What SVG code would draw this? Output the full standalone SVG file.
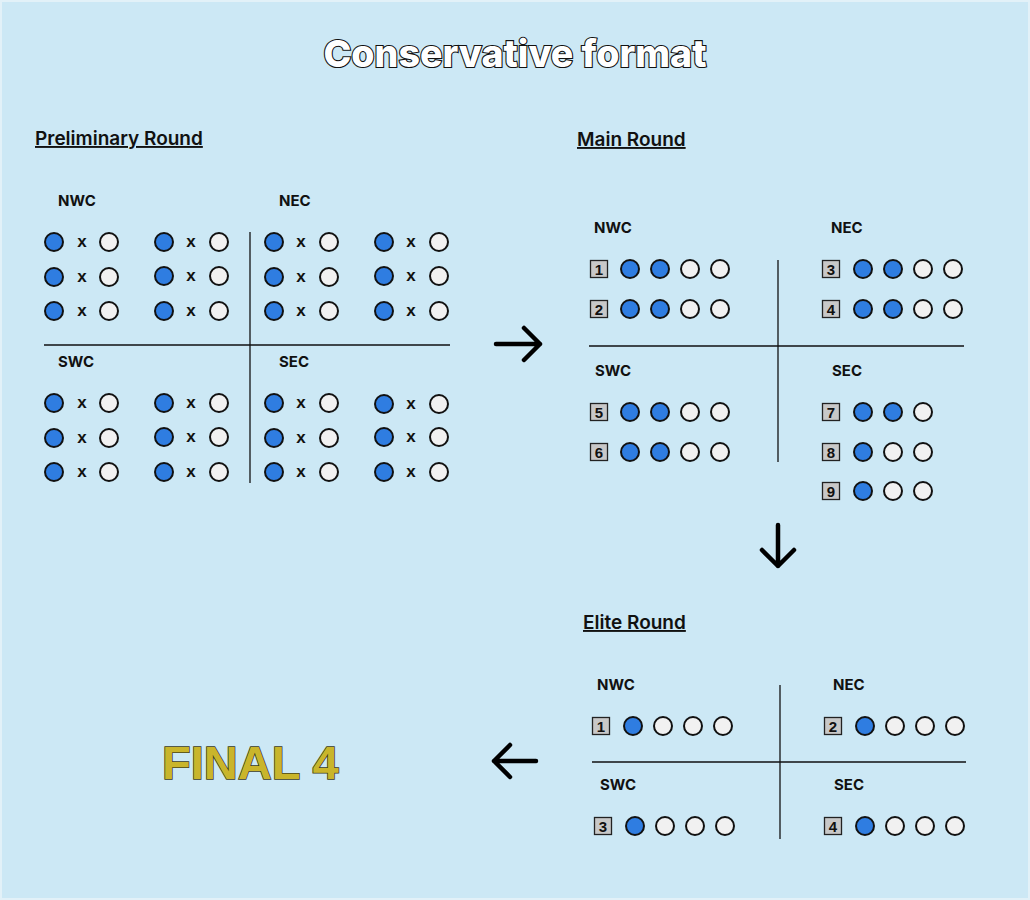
<svg xmlns="http://www.w3.org/2000/svg" xmlns:xlink="http://www.w3.org/1999/xlink" width="1030" height="900" viewBox="0 0 1030 900">
<style>
.bg{fill:#cce8f5}
.title{font-family:Inter,"Noto Sans",sans-serif;font-weight:800;font-size:37.5px;fill:#ffffff;stroke:#111;stroke-width:2.2px;paint-order:stroke fill;text-anchor:middle}
.head{font-family:Inter,"Noto Sans",sans-serif;font-weight:600;font-size:19px;fill:#111;text-decoration:underline}
.conf{font-family:Inter,"Noto Sans",sans-serif;font-weight:700;font-size:15px;fill:#111}
.x{font-family:"Liberation Sans",Arial,sans-serif;font-weight:700;font-size:17px;fill:#111;text-anchor:middle}
.num{font-family:"Liberation Sans",Arial,sans-serif;font-weight:700;font-size:15px;fill:#111;text-anchor:middle}
.sq{fill:#c8c8c8;stroke:#222;stroke-width:1.3}
.b{fill:#2f7de1;stroke:#111;stroke-width:2}
.w{fill:#f1f1f1;stroke:#111;stroke-width:2}
.div{stroke:#111;stroke-width:1.3;fill:none}
.arr{stroke:#000;stroke-width:4.5;fill:none;stroke-linecap:round;stroke-linejoin:round}
.final{font-family:"Liberation Sans",Arial,sans-serif;font-weight:700;font-size:47px;fill:#c9b52b;stroke:#3a3a1a;stroke-width:1.5px;paint-order:stroke fill}
</style>
<defs>
<circle id="B" r="9" class="b"/>
<circle id="W" r="9" class="w"/>
<rect id="S" x="-8.5" y="-8.5" width="17" height="17" class="sq"/>
</defs>
<rect x="0" y="0" width="1030" height="900" fill="#e2f1f8"/>
<rect x="2" y="2" width="1026" height="896" class="bg"/>

<text id="title" class="title" x="515" y="67">Conservative format</text>

<!-- Preliminary Round -->
<g id="prelim">
<text class="head" x="35" y="145">Preliminary Round</text>
<g id="prelim-dividers">
<line class="div" x1="250" y1="232" x2="250" y2="483"/>
<line class="div" x1="44" y1="345" x2="450" y2="345"/>
</g>
<g id="prelim-nwc">
<text class="conf" x="58" y="206">NWC</text>
<use href="#B" x="54" y="242"/><text class="x" x="82" y="247">x</text><use href="#W" x="109" y="242"/>
<use href="#B" x="54" y="277"/><text class="x" x="82" y="282">x</text><use href="#W" x="109" y="277"/>
<use href="#B" x="54" y="311"/><text class="x" x="82" y="316">x</text><use href="#W" x="109" y="311"/>
<use href="#B" x="164" y="242"/><text class="x" x="191" y="247">x</text><use href="#W" x="219" y="242"/>
<use href="#B" x="164" y="276"/><text class="x" x="191" y="281">x</text><use href="#W" x="219" y="276"/>
<use href="#B" x="164" y="311"/><text class="x" x="191" y="316">x</text><use href="#W" x="219" y="311"/>
</g>
<g id="prelim-nec">
<text class="conf" x="279" y="206">NEC</text>
<use href="#B" x="274" y="242"/><text class="x" x="301" y="247">x</text><use href="#W" x="329" y="242"/>
<use href="#B" x="274" y="277"/><text class="x" x="301" y="282">x</text><use href="#W" x="329" y="277"/>
<use href="#B" x="274" y="311"/><text class="x" x="301" y="316">x</text><use href="#W" x="329" y="311"/>
<use href="#B" x="384" y="242"/><text class="x" x="411" y="247">x</text><use href="#W" x="439" y="242"/>
<use href="#B" x="384" y="276"/><text class="x" x="411" y="281">x</text><use href="#W" x="439" y="276"/>
<use href="#B" x="384" y="311"/><text class="x" x="411" y="316">x</text><use href="#W" x="439" y="311"/>
</g>
<g id="prelim-swc">
<text class="conf" x="58" y="367">SWC</text>
<use href="#B" x="54" y="403"/><text class="x" x="82" y="408">x</text><use href="#W" x="109" y="403"/>
<use href="#B" x="54" y="438"/><text class="x" x="82" y="443">x</text><use href="#W" x="109" y="438"/>
<use href="#B" x="54" y="472"/><text class="x" x="82" y="477">x</text><use href="#W" x="109" y="472"/>
<use href="#B" x="164" y="403"/><text class="x" x="191" y="408">x</text><use href="#W" x="219" y="403"/>
<use href="#B" x="164" y="437"/><text class="x" x="191" y="442">x</text><use href="#W" x="219" y="437"/>
<use href="#B" x="164" y="472"/><text class="x" x="191" y="477">x</text><use href="#W" x="219" y="472"/>
</g>
<g id="prelim-sec">
<text class="conf" x="279" y="367">SEC</text>
<use href="#B" x="274" y="403"/><text class="x" x="301" y="408">x</text><use href="#W" x="329" y="403"/>
<use href="#B" x="274" y="438"/><text class="x" x="301" y="443">x</text><use href="#W" x="329" y="438"/>
<use href="#B" x="274" y="472"/><text class="x" x="301" y="477">x</text><use href="#W" x="329" y="472"/>
<use href="#B" x="384" y="404"/><text class="x" x="411" y="409">x</text><use href="#W" x="439" y="404"/>
<use href="#B" x="384" y="437"/><text class="x" x="411" y="442">x</text><use href="#W" x="439" y="437"/>
<use href="#B" x="384" y="472"/><text class="x" x="411" y="477">x</text><use href="#W" x="439" y="472"/>
</g>
</g>

<!-- Main Round -->
<g id="main">
<text class="head" x="577" y="146">Main Round</text>
<g id="main-dividers">
<line class="div" x1="778" y1="260" x2="778" y2="462"/>
<line class="div" x1="589" y1="346" x2="964" y2="346"/>
</g>
<g id="main-nwc">
<text class="conf" x="594" y="233">NWC</text>
<use href="#S" x="599" y="269"/><text class="num" x="599" y="274.5">1</text>
<use href="#B" x="630" y="269"/><use href="#B" x="660" y="269"/><use href="#W" x="690" y="269"/><use href="#W" x="720" y="269"/>
<use href="#S" x="599" y="309"/><text class="num" x="599" y="314.5">2</text>
<use href="#B" x="630" y="309"/><use href="#B" x="660" y="309"/><use href="#W" x="690" y="309"/><use href="#W" x="720" y="309"/>
</g>
<g id="main-nec">
<text class="conf" x="831" y="233">NEC</text>
<use href="#S" x="831" y="269"/><text class="num" x="831" y="274.5">3</text>
<use href="#B" x="863" y="269"/><use href="#B" x="893" y="269"/><use href="#W" x="923" y="269"/><use href="#W" x="953" y="269"/>
<use href="#S" x="831" y="309"/><text class="num" x="831" y="314.5">4</text>
<use href="#B" x="863" y="309"/><use href="#B" x="893" y="309"/><use href="#W" x="923" y="309"/><use href="#W" x="953" y="309"/>
</g>
<g id="main-swc">
<text class="conf" x="595" y="376">SWC</text>
<use href="#S" x="599" y="412"/><text class="num" x="599" y="417.5">5</text>
<use href="#B" x="630" y="412"/><use href="#B" x="660" y="412"/><use href="#W" x="690" y="412"/><use href="#W" x="720" y="412"/>
<use href="#S" x="599" y="452"/><text class="num" x="599" y="457.5">6</text>
<use href="#B" x="630" y="452"/><use href="#B" x="660" y="452"/><use href="#W" x="690" y="452"/><use href="#W" x="720" y="452"/>
</g>
<g id="main-sec">
<text class="conf" x="832" y="376">SEC</text>
<use href="#S" x="831" y="412"/><text class="num" x="831" y="417.5">7</text>
<use href="#B" x="863" y="412"/><use href="#B" x="893" y="412"/><use href="#W" x="923" y="412"/>
<use href="#S" x="831" y="452"/><text class="num" x="831" y="457.5">8</text>
<use href="#B" x="863" y="452"/><use href="#W" x="893" y="452"/><use href="#W" x="923" y="452"/>
<use href="#S" x="831" y="491"/><text class="num" x="831" y="496.5">9</text>
<use href="#B" x="863" y="491"/><use href="#W" x="893" y="491"/><use href="#W" x="923" y="491"/>
</g>
</g>

<!-- Elite Round -->
<g id="elite">
<text class="head" x="583" y="629">Elite Round</text>
<g id="elite-dividers">
<line class="div" x1="780" y1="685" x2="780" y2="839"/>
<line class="div" x1="592" y1="762" x2="966" y2="762"/>
</g>
<g id="elite-nwc">
<text class="conf" x="597" y="690">NWC</text>
<use href="#S" x="601" y="726"/><text class="num" x="601" y="731.5">1</text>
<use href="#B" x="633" y="726"/><use href="#W" x="663" y="726"/><use href="#W" x="693" y="726"/><use href="#W" x="723" y="726"/>
</g>
<g id="elite-nec">
<text class="conf" x="833" y="690">NEC</text>
<use href="#S" x="833" y="726"/><text class="num" x="833" y="731.5">2</text>
<use href="#B" x="865" y="726"/><use href="#W" x="895" y="726"/><use href="#W" x="925" y="726"/><use href="#W" x="955" y="726"/>
</g>
<g id="elite-swc">
<text class="conf" x="600" y="790">SWC</text>
<use href="#S" x="603" y="826"/><text class="num" x="603" y="831.5">3</text>
<use href="#B" x="635" y="826"/><use href="#W" x="665" y="826"/><use href="#W" x="695" y="826"/><use href="#W" x="725" y="826"/>
</g>
<g id="elite-sec">
<text class="conf" x="834" y="790">SEC</text>
<use href="#S" x="833" y="826"/><text class="num" x="833" y="831.5">4</text>
<use href="#B" x="865" y="826"/><use href="#W" x="895" y="826"/><use href="#W" x="925" y="826"/><use href="#W" x="955" y="826"/>
</g>
</g>

<g id="final4">
<text class="final" x="162" y="779">FINAL 4</text>
</g>

<g id="connectors">
<path class="arr" d="M496 344 H540 M524 328 L540 344 L524 360"/>
<path class="arr" d="M778 525 V566 M762 550 L778 566 L794 550"/>
<path class="arr" d="M536 761 H494 M510 745 L494 761 L510 777"/>
</g>
</svg>
